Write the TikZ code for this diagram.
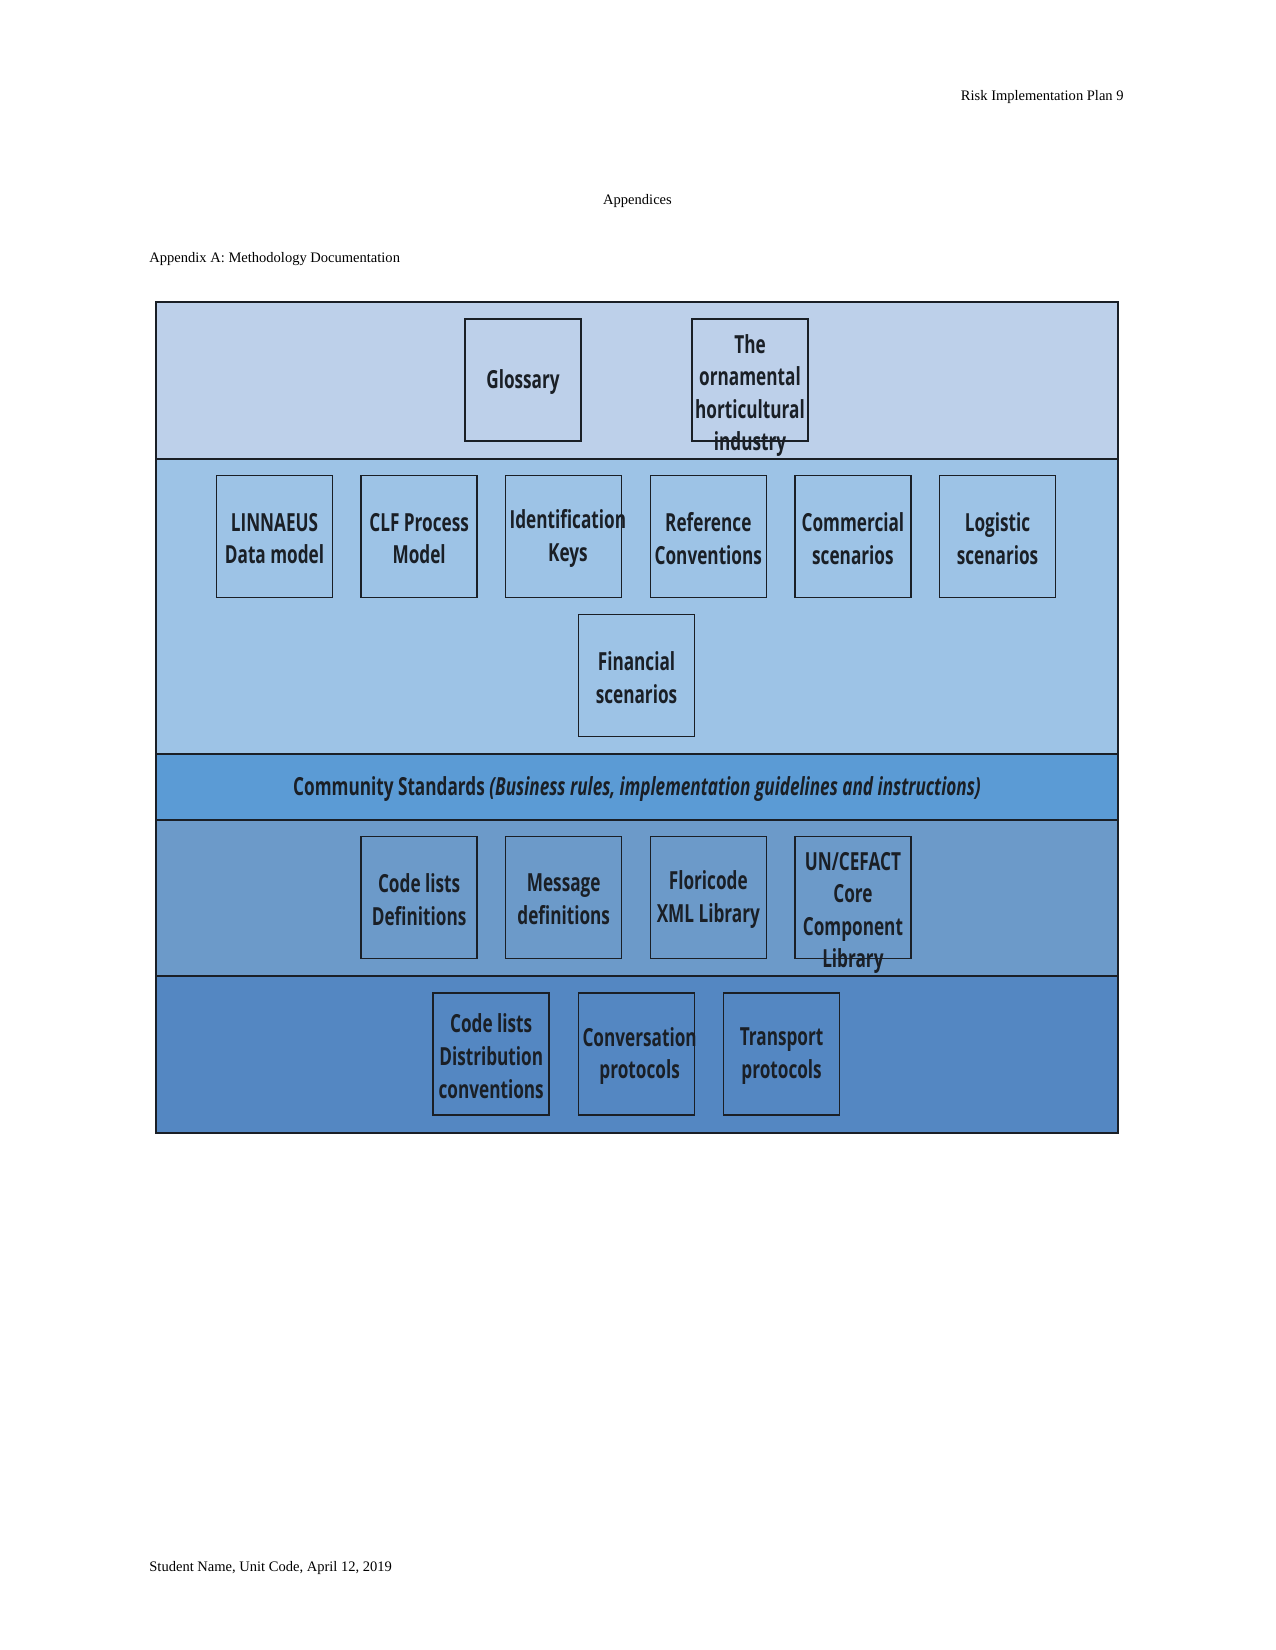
\documentclass[tikz,border=0pt]{standalone}
\usepackage{fontspec}
\setmainfont{Liberation Serif}
\newfontfamily\boxfont[FakeStretch=0.69]{Open Sans}
\definecolor{bandA}{HTML}{BDD0EA}
\definecolor{bandB}{HTML}{9DC3E6}
\definecolor{bandC}{HTML}{5B9BD5}
\definecolor{bandD}{HTML}{6C9AC9}
\definecolor{bandE}{HTML}{5487C2}
\definecolor{ink}{HTML}{1A1F26}
\begin{document}
\begin{tikzpicture}[x=0.4818pt, y=-0.4818pt]
  \tikzset{
    page_txt/.style={font=\fontsize{7}{9}\selectfont, inner sep=0pt},
    box_node/.style={rectangle, draw=ink, line width=0.7pt, minimum width=55.9pt, minimum height=58.8pt, inner sep=0pt},
    box_txt/.style={font=\boxfont\bfseries\fontsize{12}{15.7}\selectfont, text=ink, align=center, inner sep=0pt}
  }
  \useasboundingbox (0,0) rectangle (1275,1650);

  % Texto de la pagina
  \node[page_txt, anchor=east] (header) at (1124,97) {Risk Implementation Plan 9};
  \node[page_txt] (title) at (637.5,201) {Appendices};
  \node[page_txt, anchor=west] (appA) at (149,259) {Appendix A: Methodology Documentation};
  \node[page_txt, anchor=west] (footer) at (149,1568) {Student Name, Unit Code, April 12, 2019};

  % Bandas de fondo
  \fill[bandA] (156,302) rectangle (1118,459);
  \fill[bandB] (156,459) rectangle (1118,754);
  \fill[bandC] (156,754) rectangle (1118,820);
  \fill[bandD] (156,820) rectangle (1118,976);
  \fill[bandE] (156,976) rectangle (1118,1133);
  \draw[ink, line width=0.8pt] (156,459) -- (1118,459);
  \draw[ink, line width=0.8pt] (156,754) -- (1118,754);
  \draw[ink, line width=0.8pt] (156,820) -- (1118,820);
  \draw[ink, line width=0.8pt] (156,976) -- (1118,976);
  \draw[ink, line width=0.8pt] (156,302) rectangle (1118,1133);

  % Fila superior
  \node[box_node] (glossary) at (523,380) {};
  \node[box_txt, yshift=-1pt] (glossary_t) at (glossary) {Glossary};
  \node[box_node] (orna) at (750,380) {};
  \node[box_txt, yshift=-7.5pt] (orna_t) at (orna) {The\\ornamental\\horticultural\\industry};

  % Modelos y escenarios
  \node[box_node] (linnaeus) at (274.5,536.5) {};
  \node[box_txt, yshift=-1pt] (linnaeus_t) at (linnaeus) {LINNAEUS\\Data model};
  \node[box_node] (clf) at (419.1,536.5) {};
  \node[box_txt, yshift=-1pt] (clf_t) at (clf) {CLF Process\\Model};
  \node[box_node] (ident) at (563.7,536.5) {};
  \node[box_txt, xshift=2pt, yshift=-1pt] (ident_t) at (ident) {Identification\\Keys};
  \node[box_node] (refconv) at (708.3,536.5) {};
  \node[box_txt, yshift=-1pt] (refconv_t) at (refconv) {Reference\\Conventions};
  \node[box_node] (commerc) at (852.9,536.5) {};
  \node[box_txt, yshift=-1pt] (commerc_t) at (commerc) {Commercial\\scenarios};
  \node[box_node] (logist) at (997.5,536.5) {};
  \node[box_txt, yshift=-1pt] (logist_t) at (logist) {Logistic\\scenarios};
  \node[box_node] (financ) at (636.5,675.4) {};
  \node[box_txt, yshift=-1pt] (financ_t) at (financ) {Financial\\scenarios};

  % Community standards
  \node[box_txt] (community) at (637,789) {Community Standards \textit{(Business rules, implementation guidelines and instructions)}};

  % Librerias
  \node[box_node] (codedef) at (419.1,897.3) {};
  \node[box_txt, yshift=-1pt] (codedef_t) at (codedef) {Code lists\\Definitions};
  \node[box_node] (msgdef) at (563.7,897.3) {};
  \node[box_txt, yshift=-1pt] (msgdef_t) at (msgdef) {Message\\definitions};
  \node[box_node] (flori) at (708.3,897.3) {};
  \node[box_txt, yshift=-1pt] (flori_t) at (flori) {Floricode\\XML Library};
  \node[box_node] (uncefact) at (852.9,897.3) {};
  \node[box_txt, yshift=-7.5pt] (uncefact_t) at (uncefact) {UN/CEFACT\\Core\\Component\\Library};

  % Protocolos
  \node[box_node] (codedist) at (491.2,1054) {};
  \node[box_txt, yshift=-1pt] (codedist_t) at (codedist) {Code lists\\Distribution\\conventions};
  \node[box_node] (convers) at (636.5,1054) {};
  \node[box_txt, xshift=1.5pt, yshift=-1pt] (convers_t) at (convers) {Conversation\\protocols};
  \node[box_node] (transp) at (781.6,1054) {};
  \node[box_txt, yshift=-1pt] (transp_t) at (transp) {Transport\\protocols};
\end{tikzpicture}
\end{document}
